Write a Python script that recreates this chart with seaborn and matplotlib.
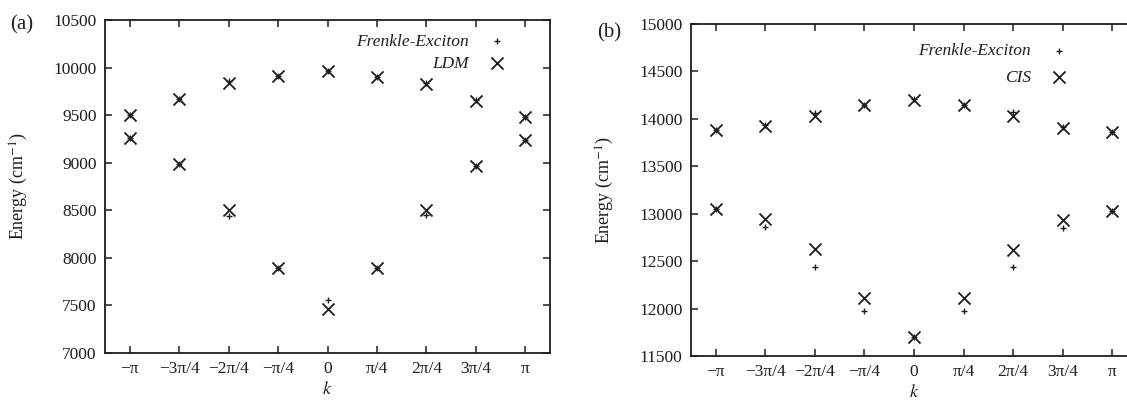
import matplotlib
matplotlib.use("Agg")
import matplotlib.pyplot as plt
import seaborn as sns
import pandas as pd

# Wave vector k in units of pi/4
k_index = [-4, -3, -2, -1, 0, 1, 2, 3, 4]
k_labels = ["−π", "−3π/4", "−2π/4", "−π/4", "0", "π/4", "2π/4", "3π/4", "π"]

# (a) upper and lower bands, Frenkel exciton model vs LDM
frenkel_a_upper = [9500, 9665, 9860, 9915, 9965, 9905, 9840, 9655, 9485]
frenkel_a_lower = [9255, 8985, 8445, 7895, 7555, 7895, 8450, 8970, 9240]
ldm_a_upper = [9500, 9665, 9840, 9915, 9965, 9900, 9825, 9650, 9480]
ldm_a_lower = [9260, 8985, 8505, 7890, 7460, 7890, 8500, 8970, 9240]

# (b) upper and lower bands, Frenkel exciton model vs CIS
frenkel_b_upper = [13885, 13930, 14065, 14150, 14205, 14150, 14070, 13910, 13860]
frenkel_b_lower = [13050, 12860, 12440, 11975, 11700, 11975, 12440, 12850, 13030]
cis_b_upper = [13880, 13925, 14030, 14146, 14200, 14146, 14035, 13904, 13860]
cis_b_lower = [13050, 12945, 12628, 12112, 11700, 12112, 12620, 12935, 13030]

sns.set_theme(style="ticks")
plt.rcParams["font.family"] = ["Liberation Serif", "DejaVu Serif"]
plt.rcParams["mathtext.fontset"] = "stix"
ink = "#1e1e1e"

fig = plt.figure(figsize=(11.27, 4.01), dpi=100)
ax_a = fig.add_axes([105 / 1127, 1 - 353 / 401, 445 / 1127, 333 / 401])
ax_b = fig.add_axes([691 / 1127, 1 - 356 / 401, 446 / 1127, 332 / 401])


def draw_panel(ax, upper_f, lower_f, upper_m, lower_m, method, ylim, yticks,
               legend_anchor, legend_spacing):
    df_f = pd.DataFrame({"k": k_index * 2, "E": upper_f + lower_f})
    df_m = pd.DataFrame({"k": k_index * 2, "E": upper_m + lower_m})
    sns.scatterplot(data=df_f, x="k", y="E", ax=ax, marker="+", s=22,
                    color=ink, linewidth=1.0, label="Frenkle-Exciton")
    sns.scatterplot(data=df_m, x="k", y="E", ax=ax, marker="x", s=75,
                    color=ink, linewidth=1.3, label=method)
    ax.set_xlim(-4.5, 4.5)
    ax.set_ylim(*ylim)
    ax.set_xticks(k_index)
    ax.set_xticklabels(k_labels)
    ax.set_yticks(yticks)
    ax.set_yticklabels([str(v) for v in yticks])
    ax.tick_params(direction="in", length=5, width=1.1, top=True, right=True,
                   labelsize=12.5, colors=ink, pad=6)
    for sp in ax.spines.values():
        sp.set_linewidth(1.3)
        sp.set_color(ink)
    ax.set_xlabel("$k$", fontsize=13, color=ink)
    ax.xaxis.set_label_coords(0.5, -0.085)
    ax.set_ylabel("Energy (cm$^{-1}$)", fontsize=13, color=ink)
    ax.yaxis.set_label_coords(-0.168, 0.5)
    leg = ax.legend(loc="upper right", bbox_to_anchor=legend_anchor,
                    frameon=False, markerfirst=False, handletextpad=0.6,
                    labelspacing=legend_spacing,
                    prop={"style": "italic", "size": 12.5})
    for t in leg.get_texts():
        t.set_color(ink)


draw_panel(ax_a, frenkel_a_upper, frenkel_a_lower, ldm_a_upper, ldm_a_lower,
           "LDM", (7000, 10500), list(range(7000, 10501, 500)),
           (0.955, 1.006), 0.35)
draw_panel(ax_b, frenkel_b_upper, frenkel_b_lower, cis_b_upper, cis_b_lower,
           "CIS", (11500, 15000), list(range(11500, 15001, 500)),
           (0.899, 0.99), 0.6)

fig.text(10 / 1127, 1 - 25 / 401, "(a)", fontsize=15, color=ink, va="center")
fig.text(597 / 1127, 1 - 33 / 401, "(b)", fontsize=15, color=ink, va="center")

fig.savefig("out.png", dpi=100, facecolor="white")
